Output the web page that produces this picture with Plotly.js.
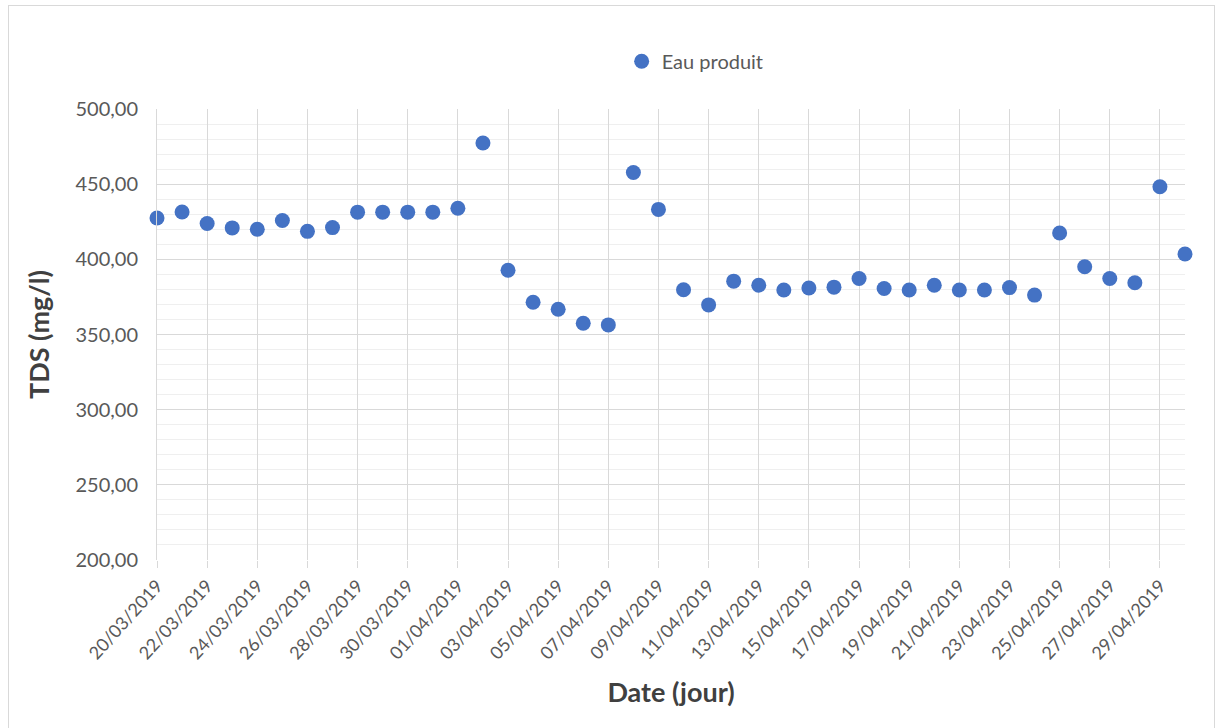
<!DOCTYPE html>
<html>
<head>
<meta charset="utf-8">
<script src="https://cdn.plot.ly/plotly-3.0.1.min.js"></script>
<style>
html,body{margin:0;padding:0;background:#fff;}
#wrap{position:relative;width:1221px;height:728px;overflow:hidden;}
#chart{position:absolute;left:0;top:0;width:1221px;height:728px;}
#frame{position:absolute;left:8px;top:5px;width:1205px;height:760px;border:1px solid #d9d9d9;pointer-events:none;}
</style>
</head>
<body>
<div id="wrap"><div id="chart"></div><div id="frame"></div></div>
<script>
const dates = ["2019-03-20","2019-03-21","2019-03-22","2019-03-23","2019-03-24","2019-03-25","2019-03-26","2019-03-27","2019-03-28","2019-03-29","2019-03-30","2019-03-31",
"2019-04-01","2019-04-02","2019-04-03","2019-04-04","2019-04-05","2019-04-06","2019-04-07","2019-04-08","2019-04-09","2019-04-10","2019-04-11","2019-04-12","2019-04-13","2019-04-14","2019-04-15","2019-04-16","2019-04-17","2019-04-18","2019-04-19","2019-04-20","2019-04-21","2019-04-22","2019-04-23","2019-04-24","2019-04-25","2019-04-26","2019-04-27","2019-04-28","2019-04-29","2019-04-30"];
const tdsEauProduit = [427.5,431.5,423.8,420.9,420.0,425.8,418.6,421.1,431.4,431.4,431.4,431.4,
434.0,477.4,392.7,371.5,366.8,357.5,356.4,457.8,433.2,379.8,369.7,385.5,382.8,379.6,380.9,381.5,387.3,380.6,379.6,382.8,379.6,379.6,381.2,376.2,417.5,395.1,387.3,384.4,448.3,403.5];
const tickDates = ["2019-03-20","2019-03-22","2019-03-24","2019-03-26","2019-03-28","2019-03-30","2019-04-01","2019-04-03","2019-04-05","2019-04-07","2019-04-09","2019-04-11","2019-04-13","2019-04-15","2019-04-17","2019-04-19","2019-04-21","2019-04-23","2019-04-25","2019-04-27","2019-04-29"];
const tickLabels = ["20/03/2019","22/03/2019","24/03/2019","26/03/2019","28/03/2019","30/03/2019","01/04/2019","03/04/2019","05/04/2019","07/04/2019","09/04/2019","11/04/2019","13/04/2019","15/04/2019","17/04/2019","19/04/2019","21/04/2019","23/04/2019","25/04/2019","27/04/2019","29/04/2019"];
const seriesName = "Eau produit";

const trace = {
  type: "scatter", mode: "markers", name: seriesName,
  x: dates, y: tdsEauProduit,
  marker: {color: "#4472C4", size: 15},
  cliponaxis: false
};
const layout = {
  width: 1221, height: 728,
  margin: {l: 157, r: 36, t: 109, b: 168},
  paper_bgcolor: "#fff", plot_bgcolor: "#fff",
  separators: ", ",
  font: {family: "Lato, 'Open Sans', sans-serif", color: "#595959"},
  showlegend: true,
  legend: {orientation: "h", x: 0.452, xanchor: "left", y: 1.106, yanchor: "middle",
           font: {size: 20, color: "#595959"}, bgcolor: "rgba(0,0,0,0)"},
  xaxis: {
    type: "date", range: ["2019-03-20", "2019-04-30"],
    tickmode: "array", tickvals: tickDates, ticktext: tickLabels,
    tickangle: -48, tickfont: {size: 18, color: "#595959"},
    showgrid: true, gridcolor: "#d9d9d9", gridwidth: 1,
    ticks: "outside", ticklen: 7, tickcolor: "#d9d9d9",
    showline: false, zeroline: false,
    title: {text: "<b>Date (jour)</b>", font: {size: 27, color: "#404040"}, standoff: 20}
  },
  yaxis: {
    range: [200, 500], dtick: 50, tick0: 200, tickformat: ".2f",
    tickfont: {size: 20, color: "#595959"}, ticklabelstandoff: 14,
    showgrid: true, gridcolor: "#d9d9d9", gridwidth: 1,
    minor: {dtick: 10, showgrid: true, gridcolor: "#efefef", gridwidth: 1},
    showline: true, linecolor: "#d9d9d9", zeroline: false,
    ticks: "", ticklen: 0,
    title: {text: "<b>TDS (mg/l)</b>", font: {size: 27, color: "#404040"}, standoff: 18}
  }
};
Plotly.newPlot("chart", [trace], layout, {displayModeBar: false, staticPlot: true});
</script>
</body>
</html>
